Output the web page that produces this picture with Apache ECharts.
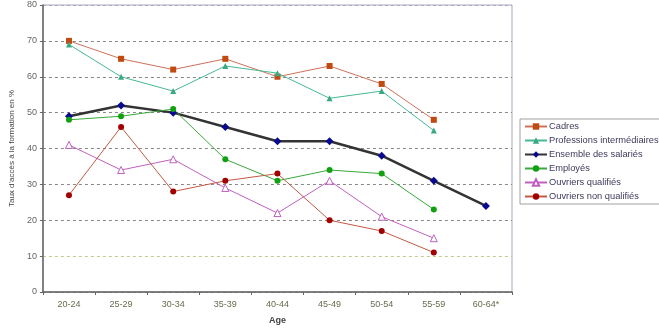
<!DOCTYPE html>
<html><head><meta charset="utf-8">
<script src="https://cdn.jsdelivr.net/npm/echarts@6/dist/echarts.min.js"></script>
<style>html,body{margin:0;padding:0;background:#fff}#c{width:659px;height:330px}</style>
</head><body><div id="c"></div>
<script>
const categories = ['20-24','25-29','30-34','35-39','40-44','45-49','50-54','55-59','60-64*'];
const cadres = [70,65,62,65,60,63,58,48,null];
const professions = [69,60,56,63,61,54,56,45,null];
const ensemble = [49,52,50,46,42,42,38,31,24];
const employes = [48,49,51,37,31,34,33,23,null];
const ouvriersQualifies = [41,34,37,29,22,31,21,15,null];
const ouvriersNonQualifies = [27,46,28,31,33,20,17,11,null];
const yTicks = [0,10,20,30,40,50,60,70,80];

const font = 'Liberation Sans, Arial, sans-serif';
function s(name, data, lineColor, markColor, symbol, size, width, fill) {
  return {
    name, type:'line', data, symbol, symbolSize:size, showSymbol:true,
    lineStyle:{color:lineColor, width:width},
    itemStyle:{color:fill||markColor, borderColor:markColor, borderWidth:fill?1:0},
    emphasis:{disabled:true}
  };
}
const chart = echarts.init(document.getElementById('c'));
chart.setOption({
  animation:false,
  textStyle:{fontFamily:font},
  grid:{left:30,right:147,top:5,bottom:34,show:true,borderColor:'#a8a8c0',borderWidth:1},
  legend:{
    orient:'vertical', left:520, top:119, width:138,
    backgroundColor:'#fff', borderColor:'#a0a0a0', borderWidth:1,
    padding:[3,3,3,4], itemGap:5, itemWidth:22, itemHeight:8,
    textStyle:{fontSize:9.3, color:'#3e3a5c', fontFamily:font, padding:[0,0,0,-3]},
    data:['Cadres','Professions intermédiaires','Ensemble des salariés','Employés','Ouvriers qualifiés','Ouvriers non qualifiés']
  },
  xAxis:{
    type:'category', data:categories, boundaryGap:true,
    name:'Age', nameLocation:'middle', nameGap:24,
    nameTextStyle:{fontSize:9, fontWeight:'bold', color:'#444'},
    axisLine:{lineStyle:{color:'#666',width:1.5}},
    axisTick:{show:true,length:3,lineStyle:{color:'#666'}},
    axisLabel:{fontSize:9,color:'#6a6a50',margin:8}
  },
  yAxis:{
    type:'value', min:0, max:80, interval:10,
    name:"Taux d'accès à la formation en %", nameLocation:'middle', nameGap:21,
    nameTextStyle:{fontSize:8, color:'#444'},
    axisLine:{show:true,lineStyle:{color:'#666',width:1.5}},
    axisTick:{show:true,length:3,lineStyle:{color:'#666'}},
    axisLabel:{fontSize:9,color:'#666',margin:6, formatter:v=>yTicks.includes(v)?String(v):''},
    splitLine:{show:true,lineStyle:{type:[3,3],color:['#888','#c8c890','#888','#888','#888','#888','#888','#888','#a8a8c0'],width:1}}
  },
  series:[
    s('Cadres',cadres,'#d0705a','#c04a10','rect',6,1),
    s('Professions intermédiaires',professions,'#45b894','#3aa880','triangle',6,1),
    s('Ensemble des salariés',ensemble,'#333333','#0a0a90','diamond',8,2.5),
    s('Employés',employes,'#3aa83a','#10a010','circle',6,1),
    s('Ouvriers qualifiés',ouvriersQualifies,'#c060c0','#c060c0','triangle',7,1,'#fff'),
    s('Ouvriers non qualifiés',ouvriersNonQualifies,'#c05a40','#a00000','circle',6,1)
  ]
});
</script></body></html>
